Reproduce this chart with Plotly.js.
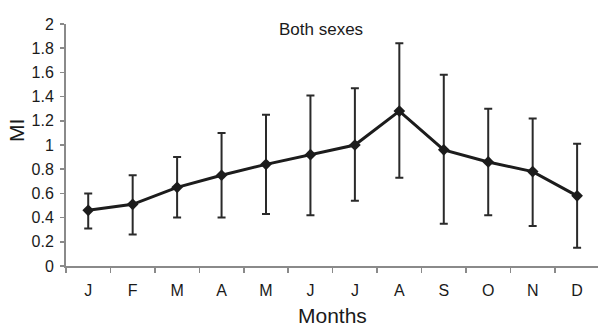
<!DOCTYPE html>
<html>
<head>
<meta charset="utf-8">
<script src="https://cdn.plot.ly/plotly-3.0.1.min.js"></script>
<style>html,body{margin:0;padding:0;background:#fff;}#chart{width:598px;height:329px;}</style>
</head>
<body>
<div id="chart"></div>
<script>
const months = ["J","F","M","A","M ","J ","J  ","A ","S","O","N","D"];
const monthLabels = ["J","F","M","A","M","J","J","A","S","O","N","D"];
const meanMI = [0.46, 0.51, 0.65, 0.75, 0.84, 0.92, 1.00, 1.28, 0.96, 0.86, 0.78, 0.58];
const upperMI = [0.60, 0.75, 0.90, 1.10, 1.25, 1.41, 1.47, 1.84, 1.58, 1.30, 1.22, 1.01];
const lowerMI = [0.31, 0.26, 0.40, 0.40, 0.43, 0.42, 0.54, 0.73, 0.35, 0.42, 0.33, 0.15];
const yTicks = [0, 0.2, 0.4, 0.6, 0.8, 1, 1.2, 1.4, 1.6, 1.8, 2];

const errPlus = upperMI.map((u, i) => u - meanMI[i]);
const errMinus = lowerMI.map((l, i) => meanMI[i] - l);

const trace = {
  x: months,
  y: meanMI,
  type: 'scatter',
  mode: 'lines+markers',
  line: {color: '#1c1c1c', width: 3},
  marker: {symbol: 'diamond', size: 9, color: '#1c1c1c'},
  error_y: {type: 'data', symmetric: false, array: errPlus, arrayminus: errMinus,
            color: '#2a2a2a', thickness: 2, width: 4},
  showlegend: false
};

const fam = 'Liberation Sans, Arial, Helvetica, sans-serif';

const layout = {
  width: 598, height: 329,
  margin: {l: 66, r: 0, t: 24, b: 63},
  paper_bgcolor: '#fff', plot_bgcolor: '#fff',
  font: {family: fam, color: '#222'},
  xaxis: {
    type: 'category',
    tickmode: 'array', tickvals: months, ticktext: monthLabels,
    range: [-0.5, 11.47],
    showgrid: false, zeroline: false,
    showline: true, linecolor: '#8a8a8a', linewidth: 2,
    ticks: 'outside', tickson: 'boundaries', ticklen: 5, tickwidth: 1.5, tickcolor: '#8a8a8a',
    ticklabelstandoff: 9,
    tickfont: {size: 16, family: fam, color: '#1a1a1a'}
  },
  yaxis: {
    range: [0, 2],
    tickmode: 'array',
    tickvals: yTicks,
    ticktext: yTicks.map(String),
    showgrid: false, zeroline: false,
    showline: true, linecolor: '#8a8a8a', linewidth: 2,
    ticks: 'outside', ticklen: 4, tickwidth: 1.5, tickcolor: '#8a8a8a',
    ticklabelstandoff: 3,
    tickfont: {size: 16, family: fam, color: '#1a1a1a'}
  },
  annotations: [
    {text: 'Both sexes', xref: 'paper', yref: 'paper', x: 0.479, y: 0.979,
     xanchor: 'center', yanchor: 'middle', showarrow: false,
     font: {size: 17, family: fam, color: '#1a1a1a'}},
    {text: 'Months', xref: 'paper', yref: 'paper', x: 0.5, y: -0.205,
     xanchor: 'center', yanchor: 'middle', showarrow: false,
     font: {size: 21, family: fam, color: '#1a1a1a'}},
    {text: 'MI', xref: 'paper', yref: 'paper', x: -0.092, y: 0.558, textangle: -90,
     xanchor: 'center', yanchor: 'middle', showarrow: false,
     font: {size: 21, family: fam, color: '#1a1a1a'}}
  ]
};

Plotly.newPlot('chart', [trace], layout, {displayModeBar: false, staticPlot: true});
</script>
</body>
</html>
